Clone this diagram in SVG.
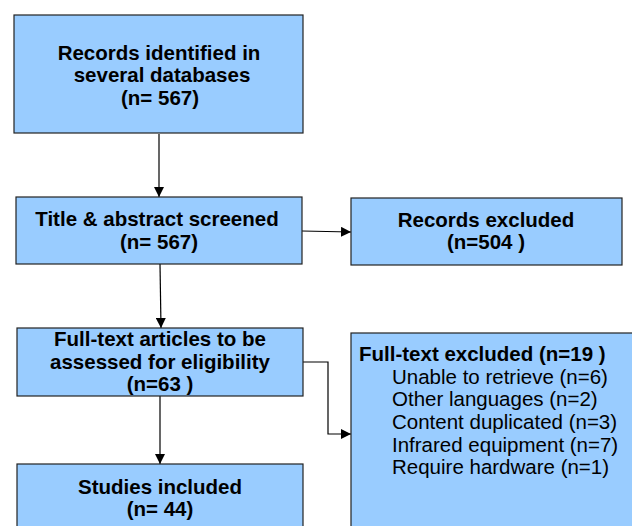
<svg xmlns="http://www.w3.org/2000/svg" width="632" height="526" viewBox="0 0 632 526">
<style>
.box{fill:#99ccff;stroke:#222;stroke-width:1.2}
.b{font-family:"Liberation Sans",Arial,sans-serif;font-weight:bold;font-size:20.5px;fill:#000;text-anchor:middle}
.bl{font-family:"Liberation Sans",Arial,sans-serif;font-weight:bold;font-size:20.5px;fill:#000}
.r{font-family:"Liberation Sans",Arial,sans-serif;font-size:20.5px;fill:#000}
.c{fill:none;stroke:#000;stroke-width:1.2}
</style>
<defs>
<marker id="ah" viewBox="0 0 10 10" refX="10" refY="5" markerWidth="10" markerHeight="10" markerUnits="userSpaceOnUse" orient="auto">
<path d="M0,0 L10,5 L0,10 z" fill="#000"/>
</marker>
</defs>
<rect width="632" height="526" fill="#fff"/>
<g id="connectors">
<line class="c" x1="159" y1="134" x2="159" y2="197" marker-end="url(#ah)"/>
<line class="c" x1="160" y1="264" x2="161" y2="328" marker-end="url(#ah)"/>
<line class="c" x1="302" y1="231" x2="351" y2="232" marker-end="url(#ah)"/>
<line class="c" x1="160" y1="396" x2="160" y2="464" marker-end="url(#ah)"/>
<polyline class="c" points="303,362 328,362 328,434 351,434" marker-end="url(#ah)"/>
</g>
<g id="n1">
<rect class="box" x="14" y="15" width="289" height="118"/>
<text class="b" x="159" y="60">Records identified in</text>
<text class="b" x="162" y="82">several databases</text>
<text class="b" x="160" y="105">(n= 567)</text>
</g>
<g id="n2">
<rect class="box" x="16" y="197" width="286" height="67"/>
<text class="b" x="157" y="226">Title &amp; abstract screened</text>
<text class="b" x="159" y="249">(n= 567)</text>
</g>
<g id="n3">
<rect class="box" x="351" y="198" width="271" height="67"/>
<text class="b" x="486" y="227">Records excluded</text>
<text class="b" x="486" y="249">(n=504 )</text>
</g>
<g id="n4">
<rect class="box" x="17" y="328" width="286" height="68"/>
<text class="b" x="160" y="346">Full-text articles to be</text>
<text class="b" x="160" y="369">assessed for eligibility</text>
<text class="b" x="160" y="391">(n=63 )</text>
</g>
<g id="n5">
<rect class="box" x="17" y="464" width="286" height="70"/>
<text class="b" x="160" y="494">Studies included</text>
<text class="b" x="160" y="516">(n= 44)</text>
</g>
<g id="n6">
<rect class="box" x="351" y="333" width="290" height="200"/>
<text class="bl" x="359" y="361">Full-text excluded (n=19 )</text>
<text class="r" x="392" y="384">Unable to retrieve (n=6)</text>
<text class="r" x="392" y="406">Other languages (n=2)</text>
<text class="r" x="392" y="429">Content duplicated (n=3)</text>
<text class="r" x="392" y="452">Infrared equipment (n=7)</text>
<text class="r" x="392" y="474">Require hardware (n=1)</text>
</g>
</svg>
